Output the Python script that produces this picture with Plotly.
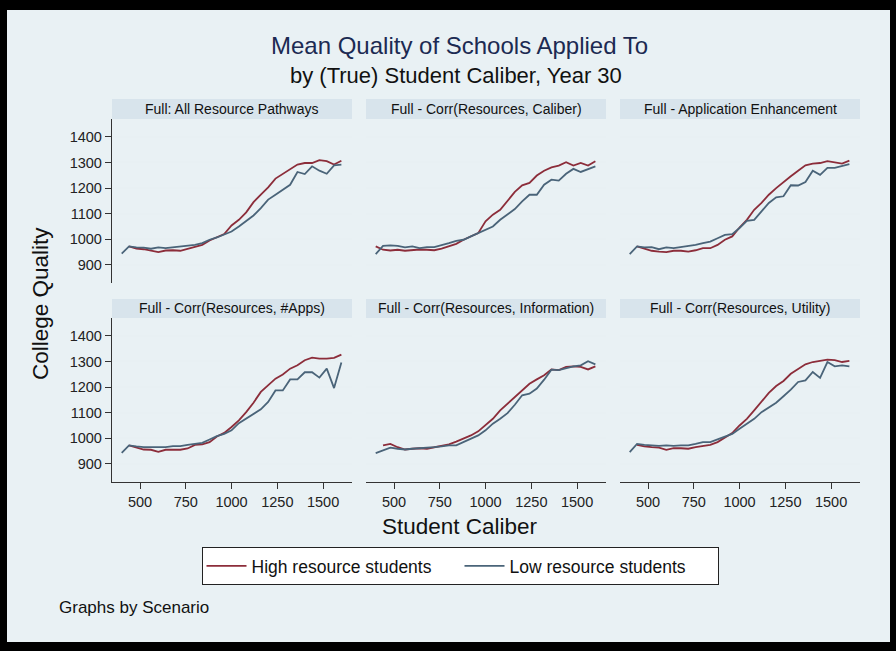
import plotly.graph_objects as go

W, H = 896, 651

caliber = [400, 440, 480, 520, 560, 600, 640, 680, 720, 760, 800, 840, 880, 920, 960,
           1000, 1040, 1080, 1120, 1160, 1200, 1240, 1280, 1320, 1360, 1400, 1440,
           1480, 1520, 1560, 1600]
caliber_high = caliber[1:]

scenarios = ["Full: All Resource Pathways", "Full - Corr(Resources, Caliber)",
             "Full - Application Enhancement", "Full - Corr(Resources, #Apps)",
             "Full - Corr(Resources, Information)", "Full - Corr(Resources, Utility)"]

low_all = [944, 972, 968, 967, 963, 968, 965, 968, 972, 976, 978, 985, 998, 1007, 1017,
           1030, 1050, 1070, 1093, 1122, 1155, 1174, 1194, 1213, 1263, 1255, 1285,
           1268, 1256, 1289, 1292]
high_all = [972, 963, 961, 956, 950, 956, 957, 955, 963, 968, 978, 995, 1007, 1020,
            1054, 1076, 1105, 1145, 1174, 1203, 1237, 1256, 1272, 1292, 1298, 1298,
            1309, 1305, 1292, 1307]

low_cal = [942, 974, 976, 974, 968, 972, 965, 969, 969, 976, 985, 994, 998, 1011, 1024,
           1037, 1050, 1076, 1096, 1118, 1148, 1174, 1174, 1213, 1233, 1229, 1256,
           1275, 1263, 1273, 1285]
high_cal_400 = 972
high_cal = [959, 956, 959, 955, 957, 960, 959, 957, 963, 974, 982, 998, 1011, 1024,
            1070, 1096, 1115, 1148, 1185, 1211, 1220, 1249, 1268, 1281, 1288, 1301,
            1288, 1298, 1288, 1305]

low_app = [942, 972, 968, 969, 961, 968, 965, 970, 972, 978, 985, 991, 1004, 1017, 1020,
           1044, 1072, 1076, 1109, 1142, 1164, 1168, 1211, 1210, 1224, 1268, 1252,
           1279, 1279, 1285, 1294]
high_app = [972, 963, 955, 952, 950, 955, 955, 952, 957, 965, 965, 978, 998, 1011,
            1046, 1076, 1115, 1142, 1174, 1200, 1224, 1246, 1268, 1289, 1296, 1298,
            1305, 1301, 1296, 1307]

low_apps = [943, 972, 968, 965, 965, 965, 965, 969, 969, 974, 978, 982, 995, 1008, 1017,
            1031, 1059, 1076, 1093, 1113, 1142, 1187, 1187, 1230, 1230, 1258, 1258,
            1237, 1272, 1196, 1296]
high_apps = [972, 965, 956, 955, 947, 955, 956, 955, 960, 974, 976, 985, 1007, 1021,
             1044, 1070, 1102, 1139, 1181, 1207, 1233, 1249, 1272, 1285, 1305, 1315,
             1311, 1311, 1314, 1327]

low_info = [942, 952, 963, 959, 956, 959, 961, 961, 965, 968, 972, 972, 985, 998, 1011,
            1031, 1057, 1076, 1098, 1131, 1168, 1174, 1194, 1229, 1268, 1266, 1275,
            1281, 1285, 1301, 1289]
high_info = [972, 978, 965, 956, 959, 961, 959, 965, 972, 976, 987, 998, 1011, 1027,
             1050, 1076, 1109, 1135, 1164, 1190, 1213, 1230, 1246, 1269, 1266, 1279,
             1281, 1279, 1269, 1281]

low_util = [946, 978, 974, 972, 970, 972, 970, 972, 972, 978, 985, 985, 995, 1004, 1017,
            1037, 1057, 1076, 1102, 1122, 1139, 1164, 1190, 1220, 1226, 1259, 1236,
            1298, 1281, 1285, 1281]
high_util = [974, 968, 965, 963, 955, 961, 961, 959, 965, 969, 974, 985, 1001, 1020,
             1050, 1076, 1109, 1144, 1177, 1204, 1224, 1252, 1272, 1289, 1298, 1302,
             1307, 1305, 1298, 1302]

high_x = [caliber_high, [400] + caliber_high, caliber_high, caliber_high, caliber_high, caliber_high]
high_y = [high_all, [high_cal_400] + high_cal, high_app, high_apps, high_info, high_util]
low_y = [low_all, low_cal, low_app, low_apps, low_info, low_util]

y_ticks = [900, 1000, 1100, 1200, 1300, 1400]
x_ticks = [500, 750, 1000, 1250, 1500]

RED = "#8c2d3a"
BLUE = "#4a6479"
FONT = "Liberation Sans, Arial, sans-serif"

cols = [(112, 352), (366, 606), (620, 860)]
rows = [(99, 119, 283), (299, 318, 482)]  # strip top, plot top, plot bottom

def px(x):
    return x / W

def py(y):
    return 1 - y / H

fig = go.Figure()
shapes = [dict(type="rect", xref="paper", yref="paper", x0=px(7), x1=px(890),
               y0=py(642), y1=py(10), fillcolor="#e9f1f4", line=dict(width=0),
               layer="below")]
annotations = []
layout = {}

for i, name in enumerate(scenarios):
    r, c = divmod(i, 3)
    xa = "x" if i == 0 else f"x{i+1}"
    ya = "y" if i == 0 else f"y{i+1}"
    xkey = "xaxis" if i == 0 else f"xaxis{i+1}"
    ykey = "yaxis" if i == 0 else f"yaxis{i+1}"
    x0, x1 = cols[c]
    st, pt, pb = rows[r]
    layout[xkey] = dict(domain=[px(x0), px(x1)], range=[347, 1658], anchor=ya,
                        tickvals=x_ticks, showticklabels=(r == 1), showgrid=False,
                        zeroline=False, showline=(r == 1), linecolor="#333",
                        linewidth=1.3, ticks="outside" if r == 1 else "",
                        ticklen=6, tickcolor="#333",
                        tickfont=dict(size=14.5, color="#222", family=FONT))
    layout[ykey] = dict(domain=[py(pb), py(pt)], range=[829, 1470], anchor=xa,
                        tickvals=y_ticks, showticklabels=(c == 0), showgrid=True,
                        gridcolor="#e8f0f3", gridwidth=1.5, zeroline=False,
                        showline=(c == 0), linecolor="#333", linewidth=1.3,
                        ticks="outside" if c == 0 else "", ticklen=6, tickcolor="#333",
                        tickfont=dict(size=14.5, color="#222", family=FONT))
    shapes.append(dict(type="rect", xref="paper", yref="paper", x0=px(x0), x1=px(x1),
                       y0=py(pt), y1=py(st), fillcolor="#d8e4ec", line=dict(width=0),
                       layer="below"))
    annotations.append(dict(text=name, xref="paper", yref="paper", x=px((x0 + x1) / 2),
                            y=py((st + pt) / 2), showarrow=False, xanchor="center",
                            yanchor="middle", font=dict(size=14, color="#111", family=FONT)))
    fig.add_trace(go.Scatter(x=high_x[i], y=high_y[i], mode="lines", xaxis=xa, yaxis=ya,
                             line=dict(color=RED, width=1.8), name="High resource students",
                             showlegend=(i == 0), legendgroup="high"))
    fig.add_trace(go.Scatter(x=caliber, y=low_y[i], mode="lines", xaxis=xa, yaxis=ya,
                             line=dict(color=BLUE, width=1.8), name="Low resource students",
                             showlegend=(i == 0), legendgroup="low"))

annotations += [
    dict(text="Mean Quality of Schools Applied To", xref="paper", yref="paper",
         x=px(459), y=py(45), xanchor="center", yanchor="middle", showarrow=False,
         font=dict(size=24, color="#1c2a52", family=FONT)),
    dict(text="by (True) Student Caliber, Year 30", xref="paper", yref="paper",
         x=px(456), y=py(75), xanchor="center", yanchor="middle", showarrow=False,
         font=dict(size=22, color="#111", family=FONT)),
    dict(text="College Quality", xref="paper", yref="paper", x=px(40), y=py(304),
         xanchor="center", yanchor="middle", showarrow=False, textangle=-90,
         font=dict(size=22.5, color="#111", family=FONT)),
    dict(text="Student Caliber", xref="paper", yref="paper", x=px(460), y=py(526),
         xanchor="center", yanchor="middle", showarrow=False,
         font=dict(size=22.5, color="#111", family=FONT)),
    dict(text="Graphs by Scenario", xref="paper", yref="paper", x=px(57), y=py(607),
         showarrow=False, xanchor="left", yanchor="middle",
         font=dict(size=17, color="#111", family=FONT)),
]

fig.update_layout(
    width=W, height=H, margin=dict(l=0, r=0, t=0, b=0, autoexpand=False),
    paper_bgcolor="#000000", plot_bgcolor="#ffffff",
    shapes=shapes, annotations=annotations,
    legend=dict(orientation="h", x=px(460), y=py(547), xanchor="center", yanchor="top",
                bgcolor="#ffffff", bordercolor="#222", borderwidth=1,
                itemwidth=40, entrywidth=203,
                font=dict(size=17.5, color="#111", family=FONT)),
    **layout,
)

fig.write_html("out.html", config={"displayModeBar": False},
               post_script="document.body.style.margin='0';document.body.style.background='#000';")
